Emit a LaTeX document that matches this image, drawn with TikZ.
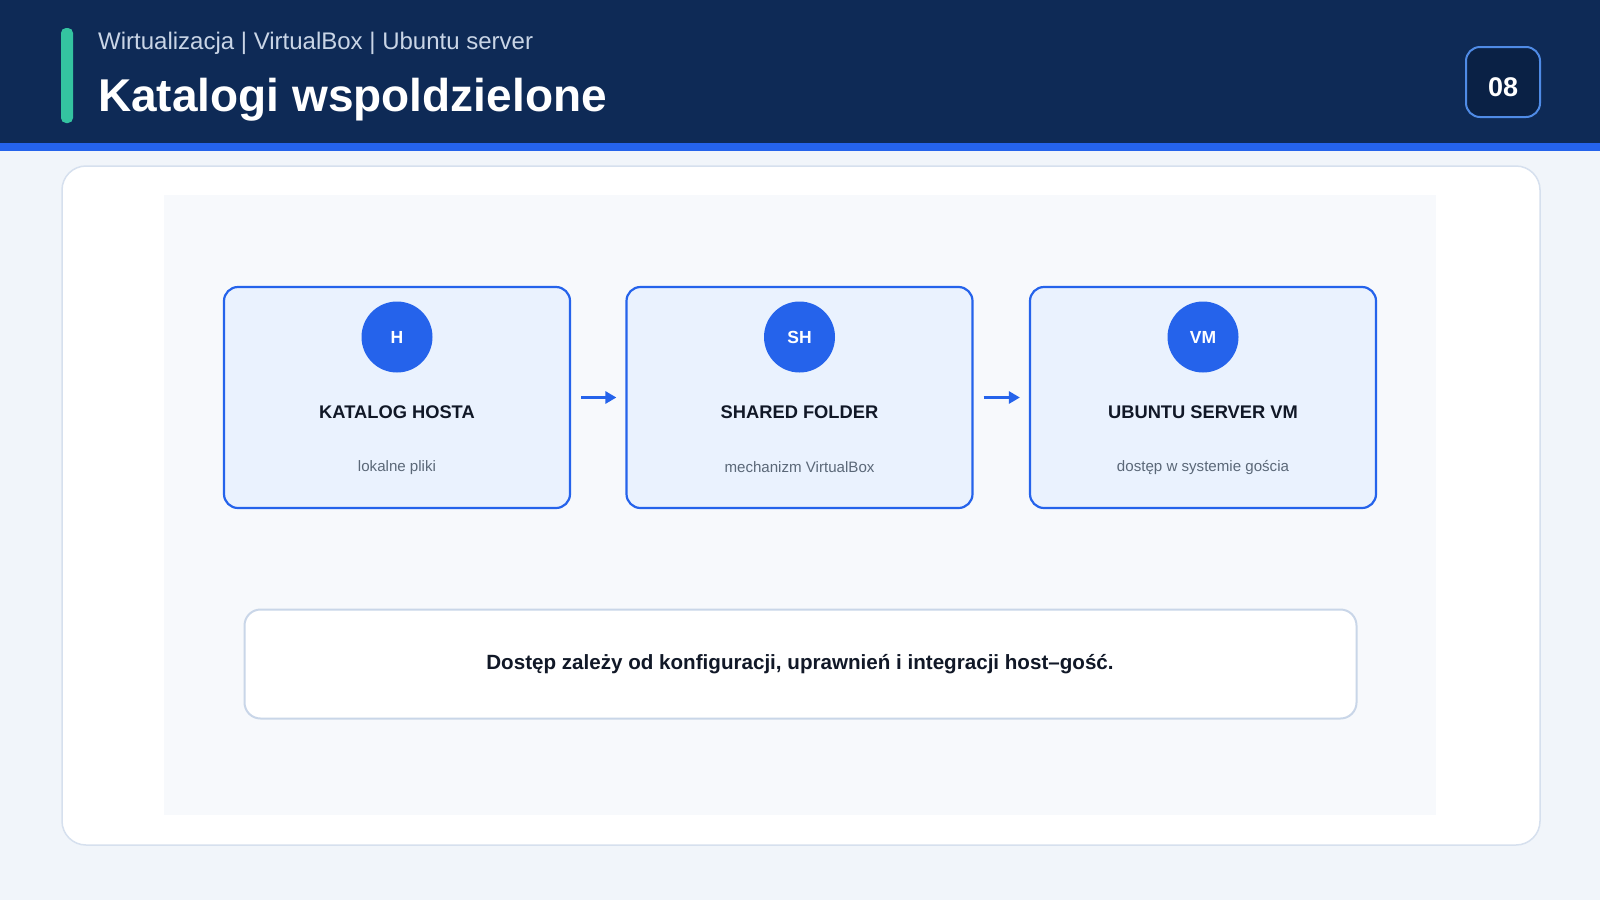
\documentclass[tikz,border=0pt]{standalone}
\usepackage{fontspec}
\setmainfont{Liberation Sans}
\usetikzlibrary{arrows.meta}
\definecolor{navy}{HTML}{0E2A56}
\definecolor{badgefill}{HTML}{0A2145}
\definecolor{badgeline}{HTML}{4F8BE6}
\definecolor{accent}{HTML}{2563EB}
\definecolor{pagebg}{HTML}{F1F5FA}
\definecolor{cardline}{HTML}{D6E0EE}
\definecolor{panelbg}{HTML}{F7F9FC}
\definecolor{boxfill}{HTML}{EAF2FE}
\definecolor{teal}{HTML}{34C3A0}
\definecolor{subhead}{HTML}{C9D5E6}
\definecolor{inktext}{HTML}{111827}
\definecolor{graytext}{HTML}{5B6878}
\definecolor{noteline}{HTML}{C9D6E8}
\tikzset{
  stepbox/.style={draw=accent, line width=2.2pt, fill=boxfill, rounded corners=14pt,
    minimum width=346pt, minimum height=221pt, inner sep=0pt},
  badgecircle/.style={circle, fill=accent, minimum size=71pt, inner sep=0pt},
  circlabel/.style={anchor=base, text=white, font=\bfseries\fontsize{17.5}{19}\selectfont},
  boxtitle/.style={anchor=base, text=inktext, font=\bfseries\fontsize{18.3}{20}\selectfont},
  boxsub/.style={anchor=base, text=graytext, font=\fontsize{15.1}{17}\selectfont},
  arr/.style={draw=accent, line width=3pt, -{Triangle[length=11pt,width=12pt]}},
}
\begin{document}
\begin{tikzpicture}[x=1pt,y=-1pt]
\useasboundingbox (0,0) rectangle (1600,900);
% background
\fill[pagebg] (0,0) rectangle (1600,900);
% header
\fill[navy] (0,0) rectangle (1600,143);
\fill[accent] (0,143) rectangle (1600,151);
\fill[teal, rounded corners=5pt] (61,28) rectangle (73,123);
\node[anchor=base west, inner sep=0pt, text=subhead, font=\fontsize{24}{26}\selectfont] (sub) at (98,49) {Wirtualizacja | VirtualBox | Ubuntu server};
\node[anchor=base west, inner sep=0pt, text=white, font=\bfseries\fontsize{46}{50}\selectfont] (title) at (98,111) {Katalogi wspoldzielone};
\node[draw=badgeline, line width=2pt, fill=badgefill, rounded corners=14pt, minimum width=74pt, minimum height=70pt, inner sep=0pt] (badge) at (1503,82) {};
\node[anchor=base, text=white, font=\bfseries\fontsize{27}{30}\selectfont] (badgetxt) at (1503,96) {08};
% card and panel
\draw[cardline, line width=1.5pt, fill=white, rounded corners=24pt] (62,166) rectangle (1540,845);
\fill[panelbg] (164,195) rectangle (1436,815);
% boxes
\node[stepbox] (b1) at (397,397.5) {};
\node[stepbox] (b2) at (799.5,397.5) {};
\node[stepbox] (b3) at (1203,397.5) {};
\node[badgecircle] (c1) at (397,337) {};
\node[badgecircle] (c2) at (799.5,337) {};
\node[badgecircle] (c3) at (1203,337) {};
\node[circlabel] (l1) at (397,343.5) {H};
\node[circlabel] (l2) at (799.5,343.5) {SH};
\node[circlabel] (l3) at (1203,343.5) {VM};
\node[boxtitle] (t1) at (397,418) {KATALOG HOSTA};
\node[boxtitle] (t2) at (799.5,418) {SHARED FOLDER};
\node[boxtitle] (t3) at (1203,418) {UBUNTU SERVER VM};
\node[boxsub] (s1) at (397,471) {lokalne pliki};
\node[boxsub] (s2) at (799.5,472.5) {mechanizm VirtualBox};
\node[boxsub] (s3) at (1203,471) {dostęp w systemie gościa};
% arrows
\draw[arr] ([xshift=10pt]b1.east) -- ([xshift=-9pt]b2.west);
\draw[arr] ([xshift=10pt]b2.east) -- ([xshift=-9pt]b3.west);
% note
\node[draw=noteline, line width=2pt, fill=white, rounded corners=16pt, minimum width=1112pt, minimum height=109pt, inner sep=0pt] (note) at (800.5,664) {};
\node[anchor=base, text=inktext, font=\bfseries\fontsize{20.6}{22}\selectfont] (notetxt) at (800,669.5) {Dostęp zależy od konfiguracji, uprawnień i integracji host–gość.};
\end{tikzpicture}
\end{document}
